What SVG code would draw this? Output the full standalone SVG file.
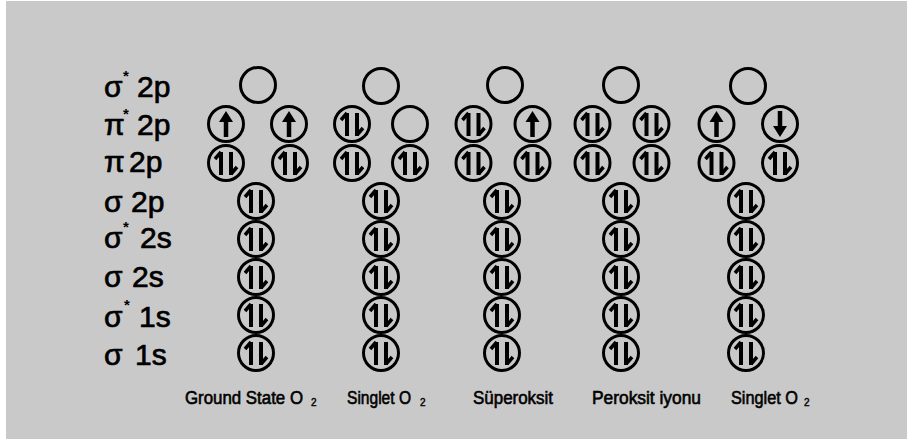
<svg xmlns="http://www.w3.org/2000/svg" xmlns:xlink="http://www.w3.org/1999/xlink" width="907" height="439" viewBox="0 0 907 439">
<style>
.orb{fill:none;stroke:#000;stroke-width:3}
.ln{stroke:#000;fill:none;stroke-linecap:butt}
.lab{font-family:"Liberation Sans",Arial,sans-serif;font-size:30px;fill:#000;stroke:#000;stroke-width:0.7}
.star{font-family:"Liberation Sans",Arial,sans-serif;font-size:15px;font-weight:bold;fill:#000}
.cap{font-family:"Liberation Sans",Arial,sans-serif;font-size:18px;fill:#000;stroke:#000;stroke-width:0.6}
.sub{font-family:"Liberation Sans",Arial,sans-serif;font-size:10px;fill:#000;stroke:#000;stroke-width:0.4}
</style>
<defs>
<g id="empty"><circle class="orb" r="17.5"/></g>
<g id="up"><circle class="orb" r="17.5"/><path class="ln" stroke-width="4.5" d="M0,13 V-3"/><polygon points="-7,-2 0,-13 7,-2" fill="#000"/></g>
<g id="down"><circle class="orb" r="17.5"/><path class="ln" stroke-width="4.5" d="M0,-13 V3"/><polygon points="-7,2 0,13 7,2" fill="#000"/></g>
<g id="pair"><circle class="orb" r="17.5"/><path class="ln" stroke-width="4" d="M-5,12 V-11 M5,-11 V12"/><path class="ln" stroke-width="3.5" d="M-5,-11 L-11,-4 M5,11 L11,4"/></g>
</defs>
<rect x="0" y="0" width="907" height="439" fill="#ffffff"/>
<rect x="6" y="1" width="901" height="438" fill="#c9c9c9"/>

<g id="labels">
<text class="lab" x="104" y="97">σ</text><text class="star" x="123" y="81">*</text><text class="lab" x="137" y="97">2p</text>
<text class="lab" x="104" y="135">π</text><text class="star" x="123" y="119">*</text><text class="lab" x="137" y="135">2p</text>
<text class="lab" x="104" y="172">π</text><text class="lab" x="129" y="172">2p</text>
<text class="lab" x="104" y="212">σ</text><text class="lab" x="131" y="212">2p</text>
<text class="lab" x="104" y="248">σ</text><text class="star" x="123" y="232">*</text><text class="lab" x="140" y="248">2s</text>
<text class="lab" x="104" y="287">σ</text><text class="lab" x="132" y="287">2s</text>
<text class="lab" x="104" y="327">σ</text><text class="star" x="124" y="310">*</text><text class="lab" x="139" y="327">1s</text>
<text class="lab" x="104" y="365">σ</text><text class="lab" x="135" y="365">1s</text>
</g>

<g id="col-ground">
<use xlink:href="#empty" x="258" y="85"/>
<use xlink:href="#up" x="226" y="124"/><use xlink:href="#up" x="289" y="124"/>
<use xlink:href="#pair" x="226" y="163"/><use xlink:href="#pair" x="290" y="163"/>
<use xlink:href="#pair" x="256" y="201"/><use xlink:href="#pair" x="256" y="239"/><use xlink:href="#pair" x="256" y="277"/><use xlink:href="#pair" x="256" y="315"/><use xlink:href="#pair" x="256" y="353"/>
<text class="cap" x="185" y="404" textLength="118" lengthAdjust="spacingAndGlyphs">Ground State O</text><text class="sub" x="311" y="406">2</text>
</g>

<g id="col-singlet1">
<use xlink:href="#empty" x="381" y="86"/>
<use xlink:href="#pair" x="352" y="124"/><use xlink:href="#empty" x="410" y="124"/>
<use xlink:href="#pair" x="352" y="163"/><use xlink:href="#pair" x="410" y="163"/>
<use xlink:href="#pair" x="381" y="201"/><use xlink:href="#pair" x="381" y="239"/><use xlink:href="#pair" x="381" y="277"/><use xlink:href="#pair" x="381" y="315"/><use xlink:href="#pair" x="381" y="353"/>
<text class="cap" x="347" y="404" textLength="64" lengthAdjust="spacingAndGlyphs">Singlet O</text><text class="sub" x="420" y="406">2</text>
</g>

<g id="col-superoksit">
<use xlink:href="#empty" x="505" y="85"/>
<use xlink:href="#pair" x="473.5" y="124"/><use xlink:href="#up" x="532.5" y="124"/>
<use xlink:href="#pair" x="473.5" y="163"/><use xlink:href="#pair" x="532.5" y="163"/>
<use xlink:href="#pair" x="502" y="201"/><use xlink:href="#pair" x="502" y="239"/><use xlink:href="#pair" x="502" y="277"/><use xlink:href="#pair" x="502" y="315"/><use xlink:href="#pair" x="502" y="353"/>
<text class="cap" x="473" y="404" textLength="80" lengthAdjust="spacingAndGlyphs">Süperoksit</text>
</g>

<g id="col-peroksit">
<use xlink:href="#empty" x="621" y="85"/>
<use xlink:href="#pair" x="592.5" y="124"/><use xlink:href="#pair" x="651.5" y="124"/>
<use xlink:href="#pair" x="592.5" y="163"/><use xlink:href="#pair" x="651.5" y="163"/>
<use xlink:href="#pair" x="621" y="201"/><use xlink:href="#pair" x="621" y="239"/><use xlink:href="#pair" x="621" y="277"/><use xlink:href="#pair" x="621" y="315"/><use xlink:href="#pair" x="621" y="353"/>
<text class="cap" x="592" y="404" textLength="109" lengthAdjust="spacingAndGlyphs">Peroksit iyonu</text>
</g>

<g id="col-singlet2">
<use xlink:href="#empty" x="748" y="86"/>
<use xlink:href="#up" x="716.5" y="124"/><use xlink:href="#down" x="780" y="124"/>
<use xlink:href="#pair" x="716.5" y="163"/><use xlink:href="#pair" x="780" y="163"/>
<use xlink:href="#pair" x="746" y="201"/><use xlink:href="#pair" x="746" y="239"/><use xlink:href="#pair" x="746" y="277"/><use xlink:href="#pair" x="746" y="315"/><use xlink:href="#pair" x="746" y="353"/>
<text class="cap" x="731" y="404" textLength="67" lengthAdjust="spacingAndGlyphs">Singlet O</text><text class="sub" x="804" y="406">2</text>
</g>

<g id="connectors"></g>
</svg>
